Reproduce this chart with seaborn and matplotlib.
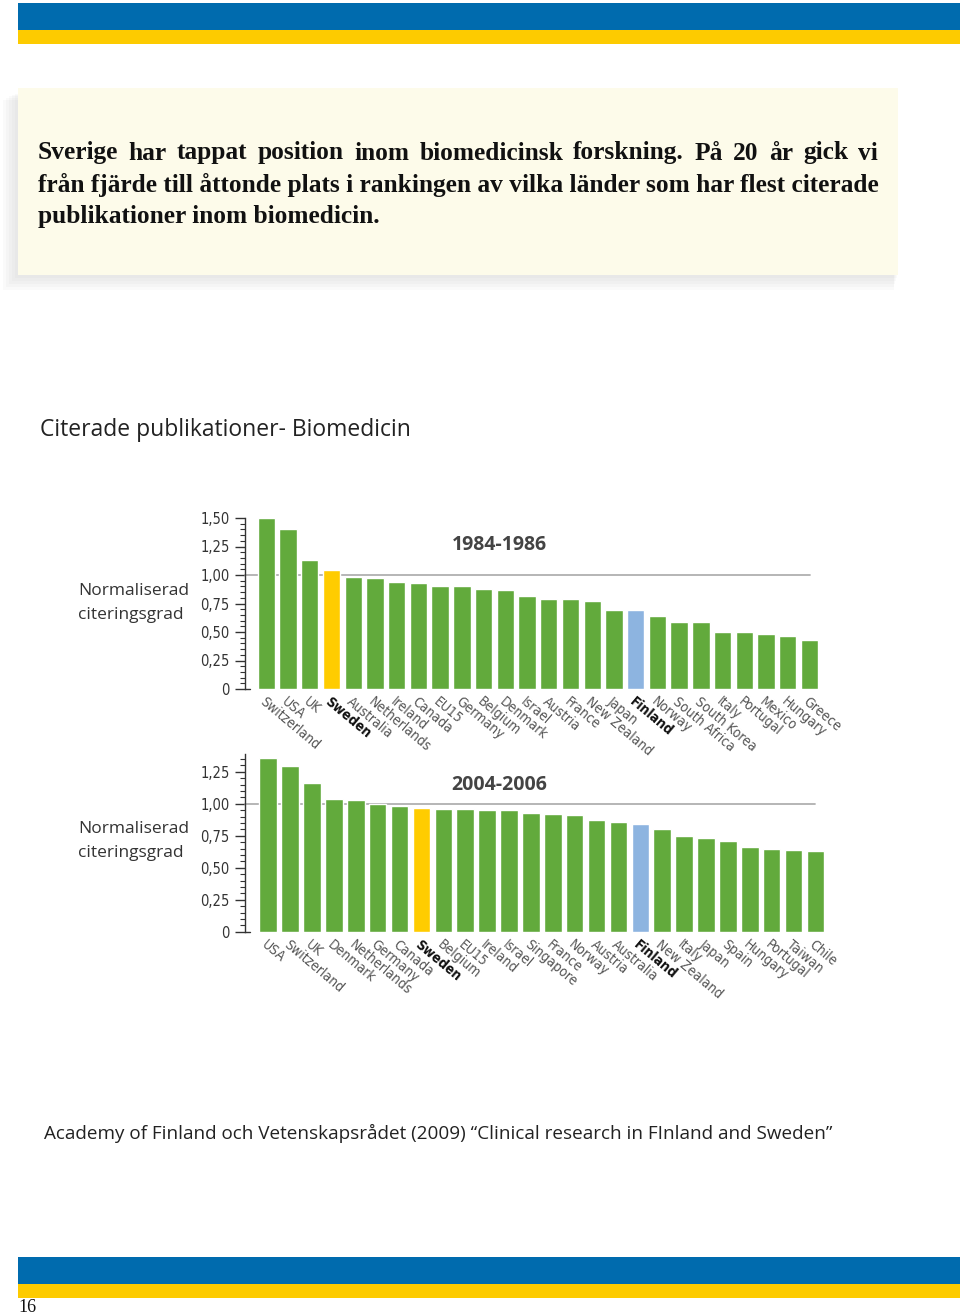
import seaborn as sns
import matplotlib.pyplot as plt
from matplotlib.patches import Rectangle
from matplotlib.ticker import MultipleLocator, FuncFormatter
from matplotlib import font_manager

# data
countries_1984 = ["Switzerland", "USA", "UK", "Sweden", "Australia", "Netherlands", "Ireland",
                  "Canada", "EU15", "Germany", "Belgium", "Denmark", "Israel", "Austria", "France",
                  "New Zealand", "Japan", "Finland", "Norway", "South Africa", "South Korea",
                  "Italy", "Portugal", "Mexico", "Hungary", "Greece"]
values_1984 = [1.50, 1.40, 1.13, 1.04, 0.98, 0.97, 0.94, 0.93, 0.90, 0.90, 0.875, 0.865, 0.82,
               0.79, 0.79, 0.775, 0.69, 0.69, 0.64, 0.585, 0.585, 0.50, 0.50, 0.48, 0.465, 0.43]

countries_2004 = ["USA", "Switzerland", "UK", "Denmark", "Netherlands", "Germany", "Canada",
                  "Sweden", "Belgium", "EU15", "Ireland", "Israel", "Singapore", "France", "Norway",
                  "Austria", "Australia", "Finland", "New Zealand", "Italy", "Japan", "Spain",
                  "Hungary", "Portugal", "Taiwan", "Chile"]
values_2004 = [1.355, 1.295, 1.165, 1.04, 1.03, 1.00, 0.98, 0.97, 0.96, 0.96, 0.95, 0.95, 0.93,
               0.92, 0.91, 0.87, 0.86, 0.84, 0.80, 0.745, 0.73, 0.71, 0.665, 0.645, 0.635, 0.63]

title_lines = ["Sverige har tappat position inom biomedicinsk forskning. På 20 år gick vi",
               "från fjärde till åttonde plats i rankingen av vilka länder som har flest citerade",
               "publikationer inom biomedicin."]
chart_title = "Citerade publikationer- Biomedicin"
ylabel = "Normaliserad\nciteringsgrad"
source = "Academy of Finland och Vetenskapsrådet (2009) \u201cClinical research in FInland and Sweden\u201d"

GREEN = "#62aa3c"
YELLOW = "#ffcc00"
BLUE = "#8db4e0"
HL = {"Sweden": YELLOW, "Finland": BLUE}

W, H = 960, 1316
sns.set_theme(style="white")
plt.rcParams['font.family'] = ['DejaVu Sans']

# a condensed face for the axis labels, if one is installed
NARROW = None
for f in font_manager.fontManager.ttflist:
    if "Condensed" in f.fname and "DejaVuSans" in f.fname and "Bold" not in f.fname \
            and "Oblique" not in f.fname:
        NARROW = f.fname
        break
NARROW_B = None
for f in font_manager.fontManager.ttflist:
    if "DejaVuSansCondensed-Bold.ttf" in f.fname:
        NARROW_B = f.fname
print("narrow:", NARROW, NARROW_B)

fig = plt.figure(figsize=(W / 100, H / 100), dpi=100)
fig.patch.set_facecolor("white")


def fx(x):
    return x / W


def fy(y):
    return 1 - y / H


def rect(x0, y0, x1, y1, color, **kw):
    fig.add_artist(Rectangle((fx(x0), fy(y1)), fx(x1) - fx(x0), (y1 - y0) / H,
                             transform=fig.transFigure, facecolor=color, edgecolor="none", **kw))


def narrow(size, bold=False):
    path = NARROW_B if bold else NARROW
    if path:
        return font_manager.FontProperties(fname=path, size=size)
    return font_manager.FontProperties(family="DejaVu Sans", size=size * 0.9,
                                       weight="bold" if bold else "normal")


# page bands
rect(18, 3, 960, 30, "#006bae")
rect(18, 30, 960, 44, "#fdcb00")
rect(18, 1257, 960, 1284, "#006bae")
rect(18, 1284, 960, 1298, "#fdcb00")
fig.text(fx(18), fy(1307), "16", family="Liberation Serif", fontsize=13, va="center", color="#111")

# cream box with a soft shadow
for i in range(5):
    d = 3 * (i + 1)
    rect(18 - d, 92 + d * 0.5, 898 - d * 0.3, 275 + d, "#808080", alpha=0.035)
rect(18, 88, 898, 275, "#fdfbea")

# title text, first line justified
renderer = fig.canvas.get_renderer()
tkw = dict(family="Liberation Serif", fontweight="bold", fontsize=18.3, color="#111", va="center")
words = title_lines[0].split(" ")
objs = [fig.text(0, fy(153), w, **tkw) for w in words]
widths = [o.get_window_extent(renderer).width for o in objs]
gap = (878 - 38 - sum(widths)) / (len(words) - 1)
x = 38
for o, w in zip(objs, widths):
    o.set_x(fx(x))
    x += w + gap
fig.text(fx(38), fy(185), title_lines[1], **tkw)
fig.text(fx(38), fy(217), title_lines[2], **tkw)

fig.text(fx(40), fy(430), chart_title, family="Open Sans", fontsize=16.5, color="#222", va="center")
fig.text(fx(44), fy(1133), source, family="Open Sans", fontsize=13.6, color="#222", va="center")


def panel(ax, countries, values, ymax, xmin):
    colors = [HL.get(c, GREEN) for c in countries]
    sns.barplot(x=countries, y=values, hue=countries, palette=colors, legend=False,
                saturation=1, width=0.8, ax=ax, zorder=2)
    ax.set_facecolor("none")
    ax.set_xlim(xmin, 25.5)
    ax.set_ylim(0, ymax)
    ax.plot([xmin, len(countries) - 1], [1, 1], color="#b0b0b0", lw=1.3, zorder=1, clip_on=False)
    for s in ["top", "right", "bottom"]:
        ax.spines[s].set_visible(False)
    ax.spines["left"].set_color("#333")
    ax.spines["left"].set_linewidth(1)
    ax.plot([xmin, xmin + 0.25], [0, 0], color="#333", lw=1, clip_on=False)
    ax.yaxis.set_major_locator(MultipleLocator(0.25))
    ax.yaxis.set_minor_locator(MultipleLocator(0.05))
    ax.yaxis.set_major_formatter(FuncFormatter(
        lambda v, p: "0" if abs(v) < 1e-9 else f"{v:.2f}".replace(".", ",")))
    ax.tick_params(axis="y", which="major", left=True, direction="out", length=7, width=1,
                   color="#333", labelcolor="#333", pad=4)
    ax.tick_params(axis="y", which="minor", left=True, direction="out", length=3.5, width=0.8,
                   color="#333")
    for lab in ax.get_yticklabels():
        lab.set_fontproperties(narrow(10.5))
    ax.set_xticks(range(len(countries)))
    ax.set_xticklabels(countries, rotation=-40, ha="left", va="top", rotation_mode="anchor",
                       color="#555")
    ax.tick_params(axis="x", length=0, pad=4)
    for lab in ax.get_xticklabels():
        bold = lab.get_text() in HL
        lab.set_fontproperties(narrow(10, bold))
        if bold:
            lab.set_color("#111")
    ax.set_xlabel("")
    ax.set_ylabel("")
    return ax


# top panel: 0 at y=689, 114 px per unit, spine at x=245
ax1 = fig.add_axes([fx(245), fy(689), 575.4 / W, 1.5 * 114 / H])
panel(ax1, countries_1984, values_1984, 1.5, -0.98)
# bottom panel: 0 at y=931.7, 128 px per unit
ax2 = fig.add_axes([fx(245), fy(931.7), 26.56 * 21.89 / W, 1.39 * 128 / H])
panel(ax2, countries_2004, values_2004, 1.39, -1.06)

fig.text(fx(499), fy(545), "1984-1986", family="Open Sans", fontweight="bold", fontsize=14,
         color="#444", ha="center", va="center")
fig.text(fx(499), fy(785), "2004-2006", family="Open Sans", fontweight="bold", fontsize=14,
         color="#444", ha="center", va="center")
fig.text(fx(78), fy(603), ylabel, family="Open Sans", fontsize=12.5, color="#333",
         va="center", linespacing=1.6)
fig.text(fx(78), fy(841), ylabel, family="Open Sans", fontsize=12.5, color="#333",
         va="center", linespacing=1.6)

plt.savefig("out.png", dpi=100)
